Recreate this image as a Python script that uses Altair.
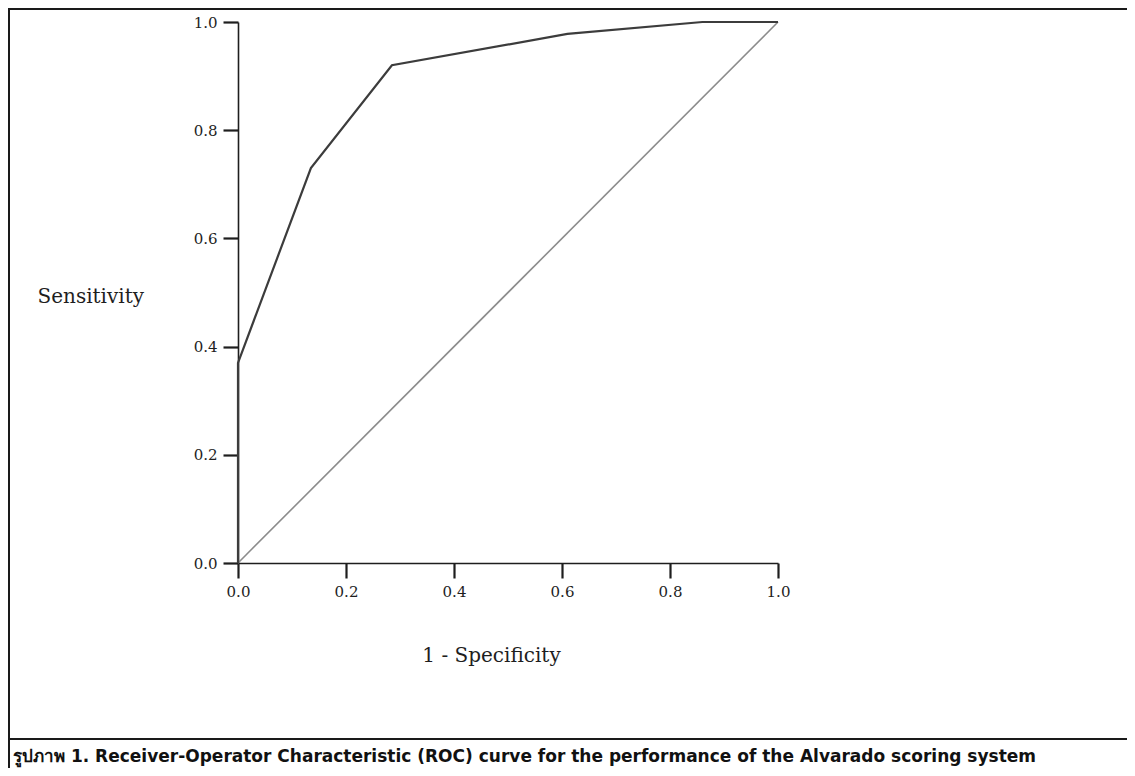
import altair as alt
import pandas as pd

# ROC curve points
fpr = [0.0, 0.0, 0.135, 0.285, 0.61, 0.86, 1.0]
tpr = [0.0, 0.37, 0.73, 0.92, 0.978, 1.0, 1.0]
# reference (chance) diagonal
ref_x = [0.0, 1.0]
ref_y = [0.0, 1.0]
ticks = [0.0, 0.2, 0.4, 0.6, 0.8, 1.0]
caption = ["รูปภาพ 1. Receiver-Operator Characteristic (ROC) curve for the performance of the Alvarado scoring system"]

roc = pd.DataFrame({"fpr": fpr, "tpr": tpr, "idx": list(range(len(fpr)))})
diag = pd.DataFrame({"fpr": ref_x, "tpr": ref_y, "idx": list(range(len(ref_x)))})
cap = pd.DataFrame({"caption": caption})
dummy = pd.DataFrame({"k": [0]})

W, H = 540, 541
PAD_L, PAD_T = 230, 14
TOTAL_W, TOTAL_H = 1119, 760

xs = alt.Scale(domain=[0, 1], nice=False)
ys = alt.Scale(domain=[0, 1], nice=False)

xaxis = alt.Axis(values=ticks, format=".1f", title="1 - Specificity", grid=False, labelFlush=False,
                 titleX=253, titleY=92, titleAlign="center", titleBaseline="middle")
yaxis = alt.Axis(values=ticks, format=".1f", title="Sensitivity", grid=False, labelFlush=False,
                 titleAngle=0, titleAlign="left", titleBaseline="middle",
                 titleX=-201, titleY=274)

X = alt.X("fpr:Q", scale=xs, axis=xaxis)
Y = alt.Y("tpr:Q", scale=ys, axis=yaxis)

diag_layer = alt.Chart(diag).mark_line(color="#8c8c8c", strokeWidth=1.6).encode(
    x=X, y=Y, order=alt.Order("idx:Q"))
roc_layer = alt.Chart(roc).mark_line(color="#3c3c3c", strokeWidth=2.2).encode(
    x=X, y=Y, order=alt.Order("idx:Q"))

frame_top = alt.Chart(dummy).mark_rule(color="#1a1a1a", strokeWidth=2).encode(
    x=alt.value(-PAD_L), x2=alt.value(TOTAL_W - PAD_L), y=alt.value(-13))
frame_left = alt.Chart(dummy).mark_rule(color="#1a1a1a", strokeWidth=2).encode(
    x=alt.value(-PAD_L + 1), y=alt.value(-14), y2=alt.value(TOTAL_H - PAD_T))
frame_sep = alt.Chart(dummy).mark_rule(color="#1a1a1a", strokeWidth=2).encode(
    x=alt.value(-PAD_L), x2=alt.value(TOTAL_W - PAD_L), y=alt.value(717))

cap_layer = alt.Chart(cap).mark_text(
    align="left", baseline="alphabetic", font="DejaVu Sans", fontSize=17,
    fontWeight="bold", color="#111").encode(
    x=alt.value(-225), y=alt.value(740), text="caption:N")

chart = alt.layer(diag_layer, roc_layer, frame_top, frame_left, frame_sep, cap_layer).properties(
    width=W, height=H,
    padding={"left": PAD_L, "top": PAD_T, "right": TOTAL_W - PAD_L - W,
             "bottom": TOTAL_H - PAD_T - H},
    autosize=alt.AutoSizeParams(type="none"),
    background="white",
).configure_view(stroke=None, strokeWidth=0).configure_axis(
    domainColor="#1e1e1e", domainWidth=1.6, tickColor="#1e1e1e", tickWidth=2.2, tickSize=15,
    labelFont="DejaVu Serif", labelFontSize=15, labelColor="#1e1e1e", labelPadding=6,
    titleFont="DejaVu Serif", titleFontSize=20, titleFontWeight="normal", titleColor="#1e1e1e",
)

chart.save("out.html", embed_options={"renderer": "svg", "actions": False})
